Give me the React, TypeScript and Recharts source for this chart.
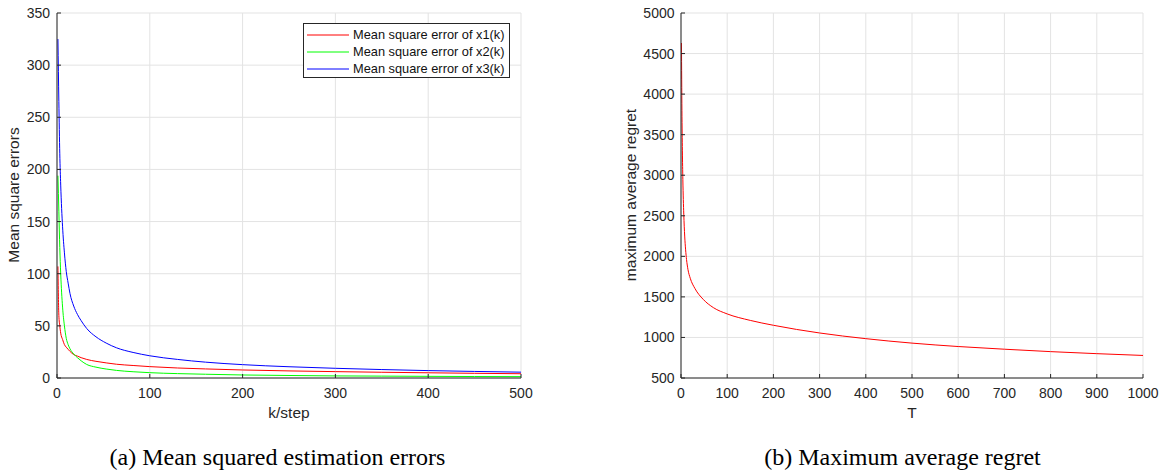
import React from "react";
import { CartesianGrid, Legend, Line, LineChart, XAxis, YAxis } from "recharts";

// (a) mean square estimation errors
const kSteps = [1, 2, 3, 4, 6, 8, 10, 12, 14, 18, 22, 26, 32, 42, 53, 64, 82, 100, 130, 160, 200, 250, 300, 350, 400, 450, 500];
const mseX1 = [107, 60, 50, 43, 37, 32, 29.5, 27.5, 25.5, 22.5, 21, 19.5, 17.8, 16, 14.5, 13.2, 12, 10.9, 9.6, 8.7, 7.7, 6.8, 6.1, 5.5, 5, 4.5, 4.1];
const mseX2 = [194, 160, 125, 100, 68, 50, 38, 32, 28, 23, 19.5, 16.5, 13, 10.4, 8.6, 7.3, 6, 5.1, 4.2, 3.6, 2.9, 2.4, 2, 1.8, 1.6, 1.4, 1.3];
const mseX3 = [325, 265, 215, 185, 145, 120, 102, 91, 81, 69, 61, 55, 47.5, 39.5, 33.5, 29, 24.5, 21.3, 17.8, 15.2, 12.8, 10.8, 9.3, 8.1, 7.1, 6.3, 5.6];
const kTicks = [0, 100, 200, 300, 400, 500];
const mseTicks = [0, 50, 100, 150, 200, 250, 300, 350];

// (b) maximum average regret
const tSteps = [1, 2, 3, 4, 5, 6, 8, 10, 12, 15, 20, 30, 48, 70, 100, 150, 200, 300, 400, 500, 600, 700, 800, 900, 1000];
const regret = [4630, 3800, 3300, 2950, 2700, 2520, 2250, 2080, 1960, 1840, 1730, 1605, 1470, 1368, 1290, 1210, 1150, 1055, 985, 930, 888, 855, 825, 800, 778];
const tTicks = [0, 100, 200, 300, 400, 500, 600, 700, 800, 900, 1000];
const regretTicks = [500, 1000, 1500, 2000, 2500, 3000, 3500, 4000, 4500, 5000];

const mseData = kSteps.map((k, i) => ({ k, x1: mseX1[i], x2: mseX2[i], x3: mseX3[i] }));
const regretData = tSteps.map((t, i) => ({ t, r: regret[i] }));

const SANS = '"Liberation Sans", Arial, sans-serif';
const SERIF = '"Liberation Serif", "Times New Roman", serif';
const AX = "#262626";
const GRID = "#e3e3e3";
const tickStyle = { fontSize: 14, fill: AX, fontFamily: SANS };

function MseLegend({ payload }: any) {
  return (
    <div
      style={{
        boxSizing: "border-box",
        width: 207,
        height: 55,
        border: `1px solid ${AX}`,
        background: "#fff",
        padding: "2px 0 0 3px",
        fontFamily: SANS,
        fontSize: 12.8,
        color: "#111",
      }}
    >
      {(payload || []).map((p: any) => (
        <div key={p.value} style={{ display: "flex", alignItems: "center", height: 17, whiteSpace: "nowrap" }}>
          <svg width={42} height={4} style={{ marginRight: 4 }}>
            <line x1={0} y1={2} x2={42} y2={2} stroke={p.color} strokeWidth={1} />
          </svg>
          <span>{p.value}</span>
        </div>
      ))}
    </div>
  );
}

export default function App() {
  return (
    <div style={{ position: "fixed", left: 0, top: 0, width: 1165, height: 472, background: "#fff" }}>
      <div style={{ position: "absolute", left: 0, top: 0 }}>
        <LineChart width={560} height={472} data={mseData} margin={{ top: 13, right: 39, bottom: 64, left: 0 }}>
          <CartesianGrid stroke={GRID} />
          <XAxis dataKey="k" type="number" domain={[0, 500]} ticks={kTicks} tickSize={-4} tickMargin={14} height={30}
            stroke={AX} tick={tickStyle} />
          <XAxis xAxisId="top" orientation="top" dataKey="k" type="number" domain={[0, 500]} ticks={kTicks} tickSize={-4}
            height={0} stroke={AX} tick={false} />
          <YAxis type="number" domain={[0, 350]} ticks={mseTicks} tickSize={-4} tickMargin={11} width={57}
            stroke={AX} tick={tickStyle} />
          <YAxis yAxisId="right" orientation="right" type="number" domain={[0, 350]} ticks={mseTicks} tickSize={-4}
            width={0} stroke={AX} tick={false} />
          <Legend content={<MseLegend />} layout="vertical" align="center" verticalAlign="middle"
            wrapperStyle={{ left: 303, top: 23, width: "auto" }} />
          <Line name="Mean square error of x1(k)" dataKey="x1" type="monotone" stroke="#ff0000" strokeWidth={1} dot={false} isAnimationActive={false} />
          <Line name="Mean square error of x2(k)" dataKey="x2" type="monotone" stroke="#00ff00" strokeWidth={1} dot={false} isAnimationActive={false} />
          <Line name="Mean square error of x3(k)" dataKey="x3" type="monotone" stroke="#0000ff" strokeWidth={1} dot={false} isAnimationActive={false} />
        </LineChart>
      </div>

      <div style={{ position: "absolute", left: 600, top: 0 }}>
        <LineChart width={565} height={472} data={regretData} margin={{ top: 13, right: 22, bottom: 64, left: 0 }}>
          <CartesianGrid stroke={GRID} />
          <XAxis dataKey="t" type="number" domain={[0, 1000]} ticks={tTicks} tickSize={-4} tickMargin={14} height={30}
            stroke={AX} tick={tickStyle} />
          <XAxis xAxisId="top" orientation="top" dataKey="t" type="number" domain={[0, 1000]} ticks={tTicks} tickSize={-4}
            height={0} stroke={AX} tick={false} />
          <YAxis type="number" domain={[500, 5000]} ticks={regretTicks} tickSize={-4} tickMargin={10.5} width={81}
            stroke={AX} tick={tickStyle} />
          <YAxis yAxisId="right" orientation="right" type="number" domain={[500, 5000]} ticks={regretTicks} tickSize={-4}
            width={0} stroke={AX} tick={false} />
          <Line dataKey="r" type="monotone" stroke="#ff0000" strokeWidth={1} dot={false} isAnimationActive={false} />
        </LineChart>
      </div>

      <svg width={1165} height={472} style={{ position: "absolute", left: 0, top: 0, pointerEvents: "none" }}>
        <g fontFamily={SANS} fontSize={15.5} fill={AX} textAnchor="middle">
          <text x={289} y={418}>k/step</text>
          <text x={912} y={418}>T</text>
          <text transform="translate(19,195) rotate(-90)">Mean square errors</text>
          <text transform="translate(636,195) rotate(-90)">maximum average regret</text>
        </g>
        <g fontFamily={SERIF} fontSize={24} fill="#000" textAnchor="middle">
          <text x={277.5} y={465}>(a) Mean squared estimation errors</text>
          <text x={902.5} y={465}>(b) Maximum average regret</text>
        </g>
      </svg>
    </div>
  );
}
